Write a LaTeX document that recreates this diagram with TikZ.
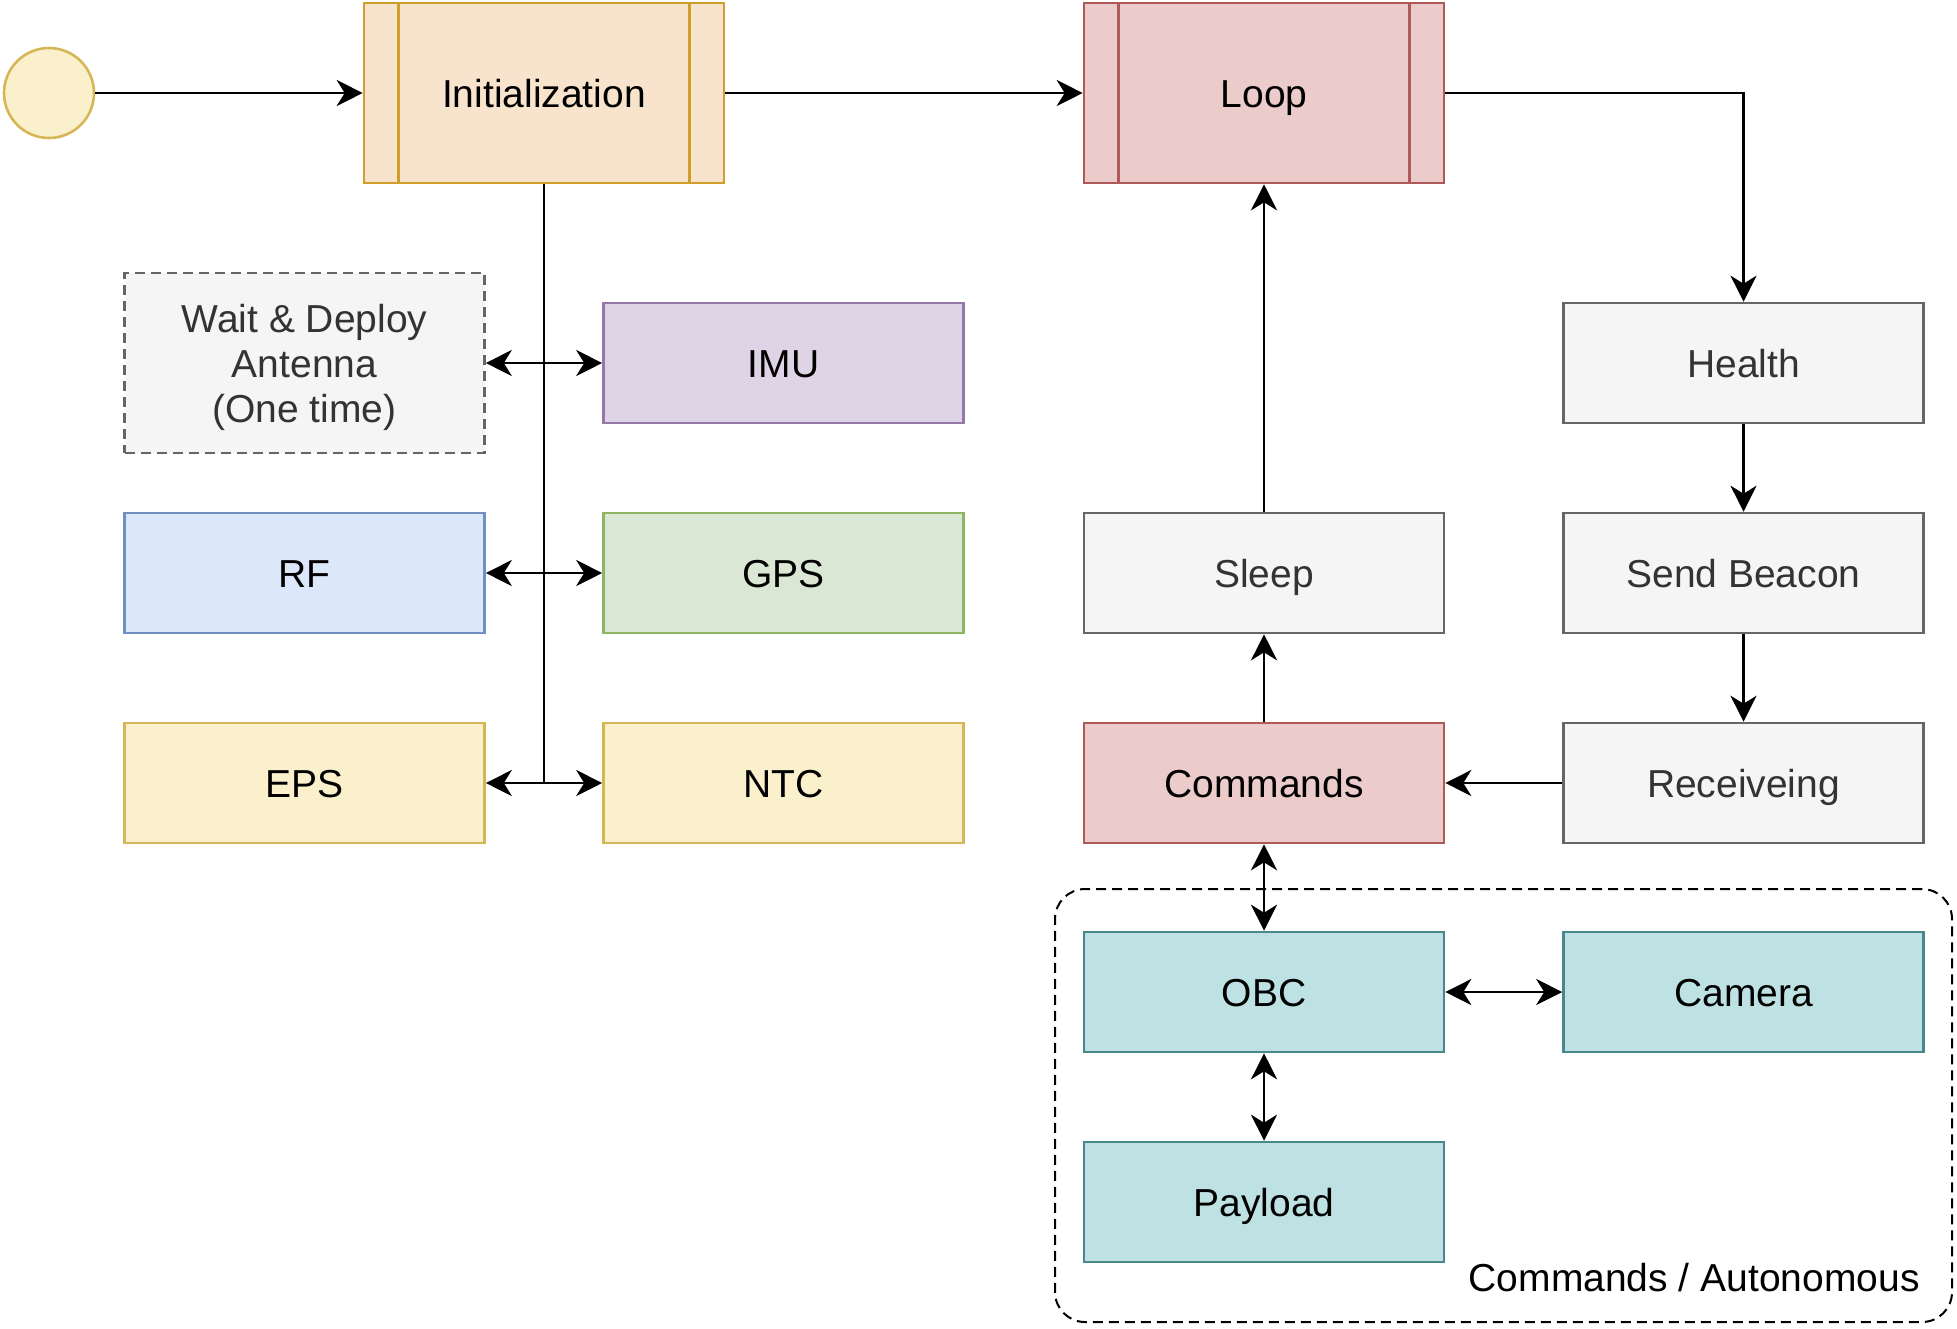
\documentclass[tikz,border=0pt]{standalone}
\usepackage{fontspec}
\setmainfont{Liberation Sans}
\usetikzlibrary{arrows.meta}
\definecolor{startfill}{HTML}{FBF0CC}
\definecolor{startdraw}{HTML}{D6B656}
\definecolor{initfill}{HTML}{F8E4CC}
\definecolor{initdraw}{HTML}{D09E2A}
\definecolor{redfill}{HTML}{ECCCCB}
\definecolor{reddraw}{HTML}{AE5A5A}
\definecolor{grayfill}{HTML}{F5F5F5}
\definecolor{graydraw}{HTML}{666666}
\definecolor{graytext}{HTML}{333333}
\definecolor{imufill}{HTML}{DFD4E6}
\definecolor{imudraw}{HTML}{9478A8}
\definecolor{rffill}{HTML}{DCE7FA}
\definecolor{rfdraw}{HTML}{7090C4}
\definecolor{gpsfill}{HTML}{DBE7D5}
\definecolor{gpsdraw}{HTML}{8DB564}
\definecolor{epsfill}{HTML}{FBF0CC}
\definecolor{epsdraw}{HTML}{D6B656}
\definecolor{tealfill}{HTML}{BEE2E3}
\definecolor{tealdraw}{HTML}{4B868C}
\begin{document}
\begin{tikzpicture}[x=0.5pt,y=-0.5pt,
  every node/.style={font=\fontsize{19.5pt}{22.5pt}\selectfont},
  basebox/.style={draw, line width=1.3pt, minimum width=180pt, minimum height=60pt, inner sep=0pt, align=center},
  box/.style={basebox, text height=14pt, text depth=0pt},
  procbox/.style={box, minimum height=90pt},
  graybox/.style={box, fill=grayfill, draw=graydraw, text=graytext},
  conn/.style={line width=1.4pt, draw=black},
  >={Stealth[length=13pt,width=13pt,inset=4pt]}]
\useasboundingbox (0,0) rectangle (1957,1328);

% group container
\node (grp) [draw, line width=1pt, dash pattern=on 5pt off 3pt, rounded corners=15pt,
  minimum width=448.5pt, minimum height=216.5pt, inner sep=0pt] at (1503.5,1105.5) {};
\node (grplabel) [anchor=base east, inner sep=0pt] at (1920,1291) {Commands / Autonomous};

% start and process boxes
\node (start) [circle, draw=startdraw, fill=startfill, line width=1.3pt, minimum size=45pt, inner sep=0pt] at (49,93) {};
\node (init) [procbox, fill=initfill, draw=initdraw] at (544,93) {Initialization};
\draw[initdraw, line width=1.3pt] ([xshift=18pt]init.north west) -- ([xshift=18pt]init.south west);
\draw[initdraw, line width=1.3pt] ([xshift=-18pt]init.north east) -- ([xshift=-18pt]init.south east);
\node (loop) [procbox, fill=redfill, draw=reddraw] at (1264,93) {Loop};
\draw[reddraw, line width=1.3pt] ([xshift=18pt]loop.north west) -- ([xshift=18pt]loop.south west);
\draw[reddraw, line width=1.3pt] ([xshift=-18pt]loop.north east) -- ([xshift=-18pt]loop.south east);

% left column
\node (wait) [basebox, fill=grayfill, draw=graydraw, text=graytext, dash pattern=on 5pt off 3pt, minimum height=90pt] at (304.5,363) {};
\node (waittext) [align=center, text=graytext, inner sep=0pt] at (304.5,367) {Wait \& Deploy\\Antenna\\(One time)};
\node (imu) [box, fill=imufill, draw=imudraw] at (783.5,363) {IMU};
\node (rf) [box, fill=rffill, draw=rfdraw] at (304.5,573) {RF};
\node (gps) [box, fill=gpsfill, draw=gpsdraw] at (783.5,573) {GPS};
\node (eps) [box, fill=epsfill, draw=epsdraw] at (304.5,783) {EPS};
\node (ntc) [box, fill=epsfill, draw=epsdraw] at (783.5,783) {NTC};

% right side
\node (health) [graybox] at (1743.5,363) {Health};
\node (beacon) [graybox] at (1743.5,573) {Send Beacon};
\node (recv) [graybox] at (1743.5,783) {Receiveing};
\node (sleep) [graybox] at (1264,573) {Sleep};
\node (cmds) [box, fill=redfill, draw=reddraw] at (1264,783) {Commands};
\node (obc) [box, fill=tealfill, draw=tealdraw] at (1264,992) {OBC};
\node (camera) [box, fill=tealfill, draw=tealdraw] at (1743.5,992) {Camera};
\node (payload) [box, fill=tealfill, draw=tealdraw] at (1264,1202) {Payload};

% connectors
\draw[conn,->] (start) -- (init);
\draw[conn,->] (init) -- (loop);
\draw[conn,->] (loop.east) -| (health.north);
\draw[conn,->] (health) -- (beacon);
\draw[conn,->] (beacon) -- (recv);
\draw[conn,->] (recv) -- (cmds);
\draw[conn,->] (cmds) -- (sleep);
\draw[conn,->] (sleep) -- (loop);
\draw[conn,<->] (cmds) -- (obc);
\draw[conn,<->] (obc) -- (camera);
\draw[conn,<->] (obc) -- (payload);

\coordinate (trunkend) at (init.south |- eps.east);
\draw[conn] (init.south) -- (trunkend);
\draw[conn,<->] (wait.east) -- (imu.west);
\draw[conn,<->] (rf.east) -- (gps.west);
\draw[conn,<->] (eps.east) -- (ntc.west);
\end{tikzpicture}
\end{document}
